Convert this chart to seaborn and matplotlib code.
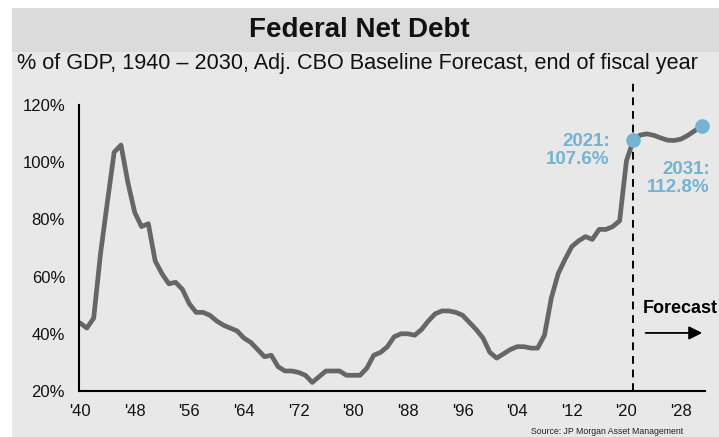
import pandas
import seaborn
from matplotlib import pyplot as plt
from matplotlib import ticker
from matplotlib.patches import Rectangle

# federal net debt, % of GDP (1940 - 2031, forecast after 2021)
years = list(range(1940, 2032))
debt_pct = [
    43.8, 42.0, 45.5, 68.0, 86.0, 103.5, 106.0, 93.0, 82.5, 77.5,  # 1940s
    78.5, 65.5, 61.0, 57.5, 58.0, 55.5, 50.5, 47.5, 47.5, 46.5,  # 1950s
    44.5, 43.0, 42.0, 41.0, 38.5, 37.0, 34.5, 32.0, 32.5, 28.5,  # 1960s
    27.0, 27.0, 26.5, 25.5, 23.0, 25.0, 27.0, 27.0, 27.0, 25.5,  # 1970s
    25.5, 25.5, 28.0, 32.5, 33.5, 35.5, 39.0, 40.0, 40.0, 39.5,  # 1980s
    41.5, 44.5, 47.0, 48.0, 48.0, 47.5, 46.5, 44.0, 41.5, 38.5,  # 1990s
    33.5, 31.5, 33.0, 34.5, 35.5, 35.5, 35.0, 35.0, 39.5, 52.5,  # 2000s
    61.0, 66.0, 70.5, 72.5, 74.0, 73.0, 76.5, 76.5, 77.5, 79.5,  # 2010s
    100.5, 107.6, 109.5, 109.9, 109.4, 108.5, 107.7, 107.6, 108.1, 109.4,  # 2020s
    111.0, 112.8,
]
tick_years = list(range(1940, 2032, 8))
tick_labels = ["'" + str(y)[2:] for y in tick_years]
highlight_years = [2021, 2031]
highlight_labels = ["2021:\n107.6%", "2031:\n112.8%"]

df = pandas.DataFrame({"year": years, "debt": debt_pct})

seaborn.set_theme(style="white")
plt.rcParams["font.family"] = ["Liberation Sans", "DejaVu Sans"]

line_color = "#666666"
dot_color = "#74b3d1"

fig = plt.figure(figsize=(7.19, 4.37), dpi=100)
fig.patch.set_facecolor("white")
# grey panel + darker title band
fig.patches.append(
    Rectangle((12 / 719, 0), 1, (437 - 52) / 437, transform=fig.transFigure,
              facecolor="#e8e8e8", edgecolor="none", zorder=-2)
)
fig.patches.append(
    Rectangle((12 / 719, (437 - 52) / 437), 1, 44 / 437, transform=fig.transFigure,
              facecolor="#dbdbdb", edgecolor="none", zorder=-2)
)

ax = fig.add_axes([79 / 719, 1 - 391 / 437, (705 - 79) / 719, (391 - 105) / 437])
ax.set_facecolor("none")

seaborn.lineplot(data=df, x="year", y="debt", ax=ax, color=line_color,
                 linewidth=3.4, solid_joinstyle="round")

hl = df[df["year"].isin(highlight_years)]
ax.plot(hl["year"], hl["debt"], "o", color=dot_color, markersize=9.5,
        zorder=5, clip_on=False)

# forecast divider
ax.axvline(2021, ymin=0, ymax=1.08, color="black", lw=1.4,
           linestyle=(0, (4, 3)), clip_on=False, zorder=4)

label_offsets = [(-17, -7), (6, -38)]
for (yr, val), txt, off in zip(hl.values, highlight_labels, label_offsets):
    ax.annotate(txt, xy=(yr, val), xytext=off, textcoords="offset points",
                ha="right", va="center", color=dot_color, fontsize=13.5,
                fontweight="bold", linespacing=1.1)

ax.text(2022.4, 49, "Forecast", fontsize=13, fontweight="bold",
        ha="left", va="center", color="black")
ax.annotate("", xy=(2031.5, 40.3), xytext=(2022.4, 40.3),
            arrowprops=dict(arrowstyle="-|>", color="black", lw=1.3,
                            mutation_scale=20))

ax.set_xlim(1939.85, 2031.5)
ax.set_ylim(20, 120)
ax.set_xticks(tick_years)
ax.set_xticklabels(tick_labels)
ax.set_yticks(range(20, 121, 20))
ax.yaxis.set_major_formatter(ticker.FuncFormatter(lambda v, p: f"{int(v)}%"))
ax.set_xlabel("")
ax.set_ylabel("")
ax.tick_params(axis="both", direction="out", length=4, width=1.2,
               color="black", labelsize=12, labelcolor="#111111")
ax.tick_params(axis="x", pad=5)
ax.tick_params(axis="y", pad=6)
ax.spines[["right", "top"]].set_visible(False)
for s in ["left", "bottom"]:
    ax.spines[s].set_color("black")
    ax.spines[s].set_linewidth(1.5)

fig.text(0.5, 1 - 30 / 437, "Federal Net Debt", ha="center", va="center",
         fontsize=20, fontweight="bold", color="#111111")
fig.text(17 / 719, 1 - 63 / 437,
         "% of GDP, 1940 \u2013 2030, Adj. CBO Baseline Forecast, end of fiscal year",
         ha="left", va="center", fontsize=15.6, color="#111111")
fig.text(607 / 719, 1 - 432 / 437, "Source: JP Morgan Asset Management",
         ha="center", va="center", fontsize=6.3, color="#222222")

fig.savefig("out.png", dpi=100)
